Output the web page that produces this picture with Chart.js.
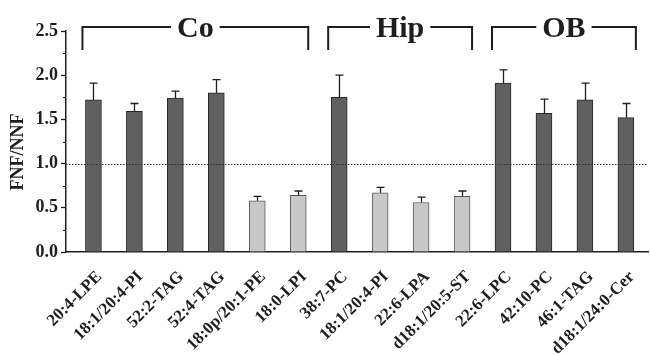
<!DOCTYPE html>
<html>
<head>
<meta charset="utf-8">
<script src="https://cdn.jsdelivr.net/npm/chart.js@4"></script>
<style>
  html, body { margin: 0; padding: 0; background: #fff; }
  #wrap { width: 650px; height: 355px; }
</style>
</head>
<body>
<div id="wrap"><canvas id="c" width="650" height="355"></canvas></div>
<script>
// --- DATA ---
const lipids = ['20:4-LPE', '18:1/20:4-PI', '52:2-TAG', '52:4-TAG', '18:0p/20:1-PE', '18:0-LPI',
  '38:7-PC', '18:1/20:4-PI', '22:6-LPA', 'd18:1/20:5-ST',
  '22:6-LPC', '42:10-PC', '46:1-TAG', 'd18:1/24:0-Cer'];
const ratio = [1.72, 1.59, 1.74, 1.80, 0.58, 0.64, 1.75, 0.67, 0.56, 0.63, 1.91, 1.57, 1.72, 1.52];
const ratioErr = [0.19, 0.09, 0.08, 0.15, 0.05, 0.05, 0.25, 0.06, 0.06, 0.06, 0.15, 0.16, 0.19, 0.16];
const regions = ['Co', 'Hip', 'OB'];
const regionFirst = [0, 6, 10];
const regionLast = [5, 9, 13];
const yTicks = [0, 0.5, 1.0, 1.5, 2.0, 2.5];
const yTitle = 'FNF/NNF';

const SERIF = '"Liberation Serif", "Times New Roman", serif';
const INK = '#1e1e1e';

// bars go dark when FNF/NNF > 1, light grey when below
const fills = ratio.map(v => v > 1 ? '#606060' : '#c8c8c8');
const edges = ratio.map(v => v > 1 ? '#262626' : '#5a5a5a');

// --- EXTRAS: error bars, reference line, minor ticks, region brackets, y title ---
const extras = {
  id: 'extras',
  afterDatasetsDraw(chart) {
    const ctx = chart.ctx;
    const x = chart.scales.x, y = chart.scales.y;
    const area = chart.chartArea;
    ctx.save();

    // dotted line at 1.0
    ctx.strokeStyle = '#333';
    ctx.lineWidth = 1;
    ctx.setLineDash([1.5, 1.5]);
    const y1 = Math.round(y.getPixelForValue(1)) + 0.5;
    ctx.beginPath();
    ctx.moveTo(area.left, y1);
    ctx.lineTo(area.right, y1);
    ctx.stroke();
    ctx.setLineDash([]);

    // error bars (upper only)
    ctx.strokeStyle = INK;
    ctx.lineWidth = 1.3;
    ratio.forEach((v, i) => {
      const cx = Math.round(x.getPixelForValue(i)) + 0.5;
      const top = y.getPixelForValue(v);
      const tip = y.getPixelForValue(v + ratioErr[i]);
      ctx.beginPath();
      ctx.moveTo(cx, top);
      ctx.lineTo(cx, tip);
      ctx.moveTo(cx - 4, tip);
      ctx.lineTo(cx + 4, tip);
      ctx.stroke();
    });

    // minor ticks on y
    ctx.lineWidth = 1;
    for (let k = 0; k < yTicks.length - 1; k++) {
      const py = Math.round(y.getPixelForValue((yTicks[k] + yTicks[k + 1]) / 2)) + 0.5;
      ctx.beginPath();
      ctx.moveTo(area.left - 3, py);
      ctx.lineTo(area.left, py);
      ctx.stroke();
    }

    // region brackets
    ctx.lineWidth = 2;
    ctx.font = 'bold 30px ' + SERIF;
    ctx.fillStyle = INK;
    ctx.textAlign = 'center';
    ctx.textBaseline = 'alphabetic';
    const by = 27, drop = 50;
    regions.forEach((name, g) => {
      const l = x.getPixelForValue(regionFirst[g]) - 11;
      const r = x.getPixelForValue(regionLast[g]) + 10;
      const mid = (l + r) / 2;
      const half = ctx.measureText(name).width / 2 + 6;
      ctx.beginPath();
      ctx.moveTo(l, drop);
      ctx.lineTo(l, by);
      ctx.lineTo(mid - half, by);
      ctx.moveTo(mid + half, by);
      ctx.lineTo(r, by);
      ctx.lineTo(r, drop);
      ctx.stroke();
      ctx.fillText(name, mid, 37);
    });

    // y title, rotated, sits a little below the middle of the axis
    ctx.font = 'bold 18px ' + SERIF;
    ctx.textBaseline = 'middle';
    ctx.translate(18, 152);
    ctx.rotate(-Math.PI / 2);
    ctx.fillText(yTitle, 0, 0);
    ctx.restore();
  }
};

new Chart(document.getElementById('c'), {
  type: 'bar',
  data: {
    datasets: [{
      data: ratio.map((v, i) => ({ x: i, y: v })),
      backgroundColor: fills,
      borderColor: edges,
      borderWidth: 1,
      barThickness: 16
    }]
  },
  options: {
    responsive: false,
    animation: false,
    devicePixelRatio: 1,
    layout: { padding: { top: 31, right: 2, left: 0, bottom: 0 } },
    plugins: { legend: { display: false }, tooltip: { enabled: false } },
    scales: {
      x: {
        type: 'linear',
        offset: false,
        min: -0.67,
        max: 13.54,
        border: { color: INK, width: 1.5 },
        grid: { display: false, offset: false },
        ticks: {
          stepSize: 1,
          includeBounds: false,
          autoSkip: false,
          minRotation: 45,
          maxRotation: 45,
          padding: 7,
          labelOffset: 6,
          color: INK,
          font: { family: SERIF, size: 17, weight: 'bold' },
          callback: v => Number.isInteger(v) && lipids[v] ? lipids[v] : ''
        },
        afterFit(s) { s.height = 103; }
      },
      y: {
        min: 0,
        max: 2.5,
        border: { color: INK, width: 1.5 },
        grid: { drawOnChartArea: false, tickLength: 5, tickColor: INK, tickWidth: 1.3 },
        ticks: {
          stepSize: 0.5,
          padding: 3,
          color: INK,
          font: { family: SERIF, size: 18, weight: 'bold' },
          callback: v => v.toFixed(1)
        },
        afterFit(s) { s.width = 66; }
      }
    }
  },
  plugins: [extras]
});
</script>
</body>
</html>
